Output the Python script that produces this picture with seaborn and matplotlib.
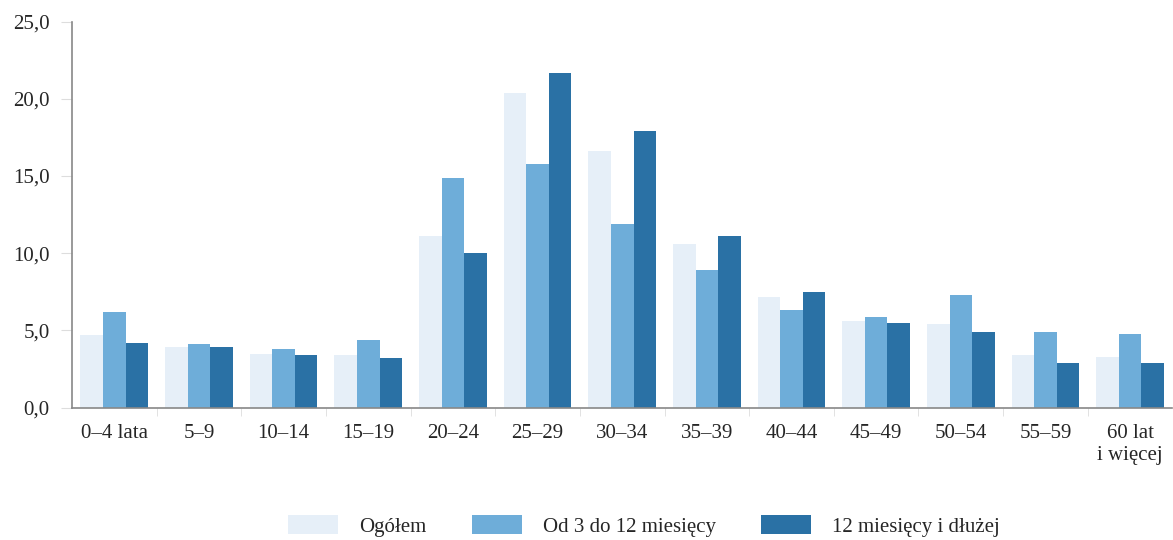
import matplotlib
matplotlib.use('Agg')
import matplotlib.pyplot as plt
import numpy as np
import pandas as pd
import seaborn as sns
from matplotlib.ticker import FixedLocator, FuncFormatter

groups = ['0–4 lata', '5–9', '10–14', '15–19', '20–24', '25–29', '30–34',
          '35–39', '40–44', '45–49', '50–54', '55–59', '60 lat\ni więcej']
series = ['Ogółem', 'Od 3 do 12 miesięcy', '12 miesięcy i dłużej']
ogolem = [4.7, 3.9, 3.5, 3.4, 11.1, 20.4, 16.6, 10.6, 7.2, 5.6, 5.4, 3.4, 3.3]
od3do12 = [6.2, 4.1, 3.8, 4.4, 14.9, 15.8, 11.9, 8.9, 6.3, 5.9, 7.3, 4.9, 4.8]
dluzej = [4.2, 3.9, 3.4, 3.2, 10.0, 21.7, 17.9, 11.1, 7.5, 5.5, 4.9, 2.9, 2.9]
colors = ['#e6eff8', '#6eadd9', '#2a71a5']

df = pd.DataFrame({'grupa': groups * 3,
                   'seria': np.repeat(series, len(groups)),
                   'wartosc': ogolem + od3do12 + dluzej})

sns.set_style('white')
plt.rcParams['font.family'] = ['Liberation Serif', 'DejaVu Serif']

fig, ax = plt.subplots(figsize=(11.73, 5.40), dpi=100)
fig.subplots_adjust(left=0.0614, right=0.9995, top=0.96, bottom=0.245)

sns.barplot(data=df, x='grupa', y='wartosc', hue='seria', palette=colors,
            width=0.8, linewidth=0, saturation=1, ax=ax)

ax.set_ylim(0, 25)
ax.set_xlim(-0.5, len(groups) - 0.5)
ax.set_yticks([0, 5, 10, 15, 20, 25])
ax.yaxis.set_major_formatter(FuncFormatter(lambda v, p: f'{v:.1f}'.replace('.', ',')))
ax.set_xlabel('')
ax.set_ylabel('')

ax.xaxis.set_minor_locator(FixedLocator(np.arange(0.5, len(groups) - 1, 1)))
ax.tick_params(axis='x', which='major', length=0, pad=12, labelsize=15)
ax.tick_params(axis='x', which='minor', length=6, color='#dddddd', bottom=True)
ax.tick_params(axis='y', length=8, color='#dddddd', pad=8, labelsize=15, left=True)

for s in ['top', 'right']:
    ax.spines[s].set_visible(False)
for s in ['left', 'bottom']:
    ax.spines[s].set_color('#888888')
    ax.spines[s].set_linewidth(1.2)

handles, labels = ax.get_legend_handles_labels()
ax.get_legend().remove()
fig.legend(handles, labels, loc='center', bbox_to_anchor=(0.549, 0.026), ncol=3,
           frameon=False, fontsize=15, handlelength=2.4, handleheight=1.0,
           handletextpad=1.0, columnspacing=2.2)

fig.savefig('out.png', dpi=100)
